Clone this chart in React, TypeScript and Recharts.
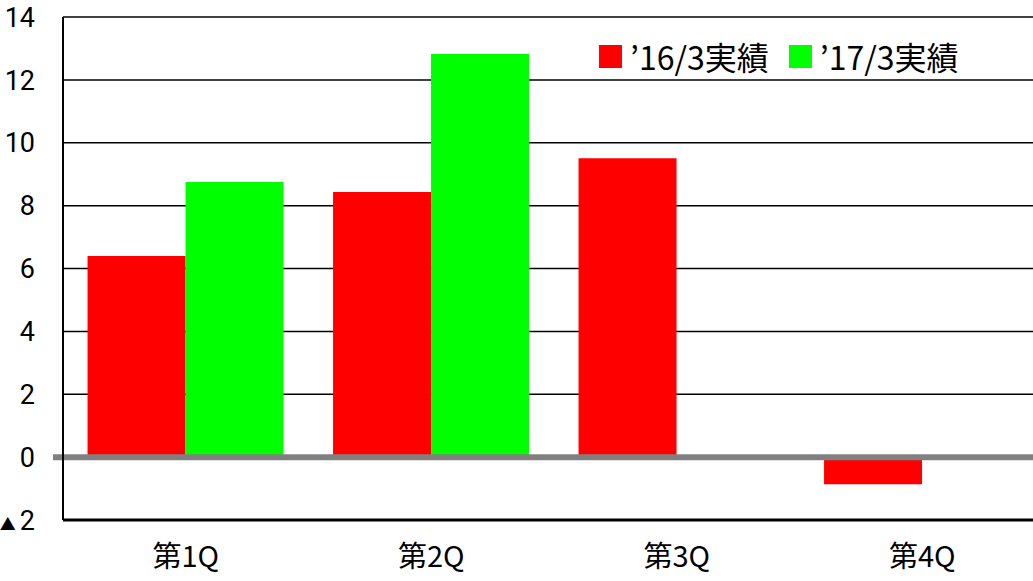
import React from 'react';
import { BarChart, Bar, XAxis, YAxis, CartesianGrid, ReferenceLine } from 'recharts';

const quarters = ['第1Q', '第2Q', '第3Q', '第4Q'];
const fy2016 = [6.4, 8.43, 9.51, -0.86];
const fy2017: (number | null)[] = [8.75, 12.82, null, null];
const yTicks = [-2, 0, 2, 4, 6, 8, 10, 12, 14];

const SERIES = [
  { key: 'fy2016', name: '’16/3実績', color: '#FF0000' },
  { key: 'fy2017', name: '’17/3実績', color: '#00FF00' },
];

const data = quarters.map((q, i) => ({ quarter: q, fy2016: fy2016[i], fy2017: fy2017[i] }));

const FONT = '"Noto Sans CJK JP", "Noto Sans", sans-serif';
const NUM_FONT = 'Roboto, "Noto Sans CJK JP", sans-serif';

const LegendBox = () => (
  <div
    style={{
      position: 'absolute',
      left: 599,
      top: 33,
      display: 'flex',
      alignItems: 'center',
      fontFamily: FONT,
      fontSize: 32,
      color: '#000',
      whiteSpace: 'nowrap',
    }}
  >
    {SERIES.map((s) => (
      <div key={s.key} style={{ display: 'flex', alignItems: 'center', marginRight: 20 }}>
        <span style={{ display: 'inline-block', width: 23, height: 23, background: s.color, marginRight: 8 }} />
        <span>{s.name}</span>
      </div>
    ))}
  </div>
);

const ZeroLine = (props: any) => {
  const { x1, x2, y1 } = props;
  return <line x1={x1 - 10} x2={x2} y1={y1} y2={y1} stroke="#808080" strokeWidth={6} />;
};

const YTick = (props: any) => {
  const { x, y, payload } = props;
  const v = payload.value as number;
  return (
    <text x={x} y={y} dy="0.36em" textAnchor="end" fill="#000" fontSize={27} fontFamily={NUM_FONT}>
      {v < 0 ? (
        <>
          <tspan fontSize={16}>▲</tspan>
          <tspan dx={4}>{Math.abs(v)}</tspan>
        </>
      ) : (
        String(v)
      )}
    </text>
  );
};

export default function App() {
  return (
    <div style={{ position: 'absolute', left: 0, top: 0, width: 1033, height: 581, overflow: 'hidden', background: '#fff' }}>
      <BarChart
        width={1045}
        height={581}
        data={data}
        margin={{ top: 17, right: 0, bottom: 0, left: 0 }}
        barCategoryGap="10%"
        barGap={0}
      >
        <CartesianGrid vertical={false} stroke="#000" strokeWidth={1.5} />
        <XAxis
          dataKey="quarter"
          height={61}
          axisLine={{ stroke: '#000', strokeWidth: 3 }}
          tickLine={false}
          tick={{ fill: '#000', fontSize: 29, fontFamily: FONT }}
          tickMargin={20}
        />
        <YAxis
          width={63}
          domain={[-2, 14]}
          ticks={yTicks}
          interval={0}
          axisLine={{ stroke: '#000', strokeWidth: 2 }}
          tickLine={false}
          tickMargin={22}
          tick={<YTick />}
        />
        {SERIES.map((s) => (
          <Bar key={s.key} dataKey={s.key} name={s.name} fill={s.color} isAnimationActive={false} />
        ))}
        <ReferenceLine y={0} shape={<ZeroLine />} />
      </BarChart>
      <LegendBox />
    </div>
  );
}
